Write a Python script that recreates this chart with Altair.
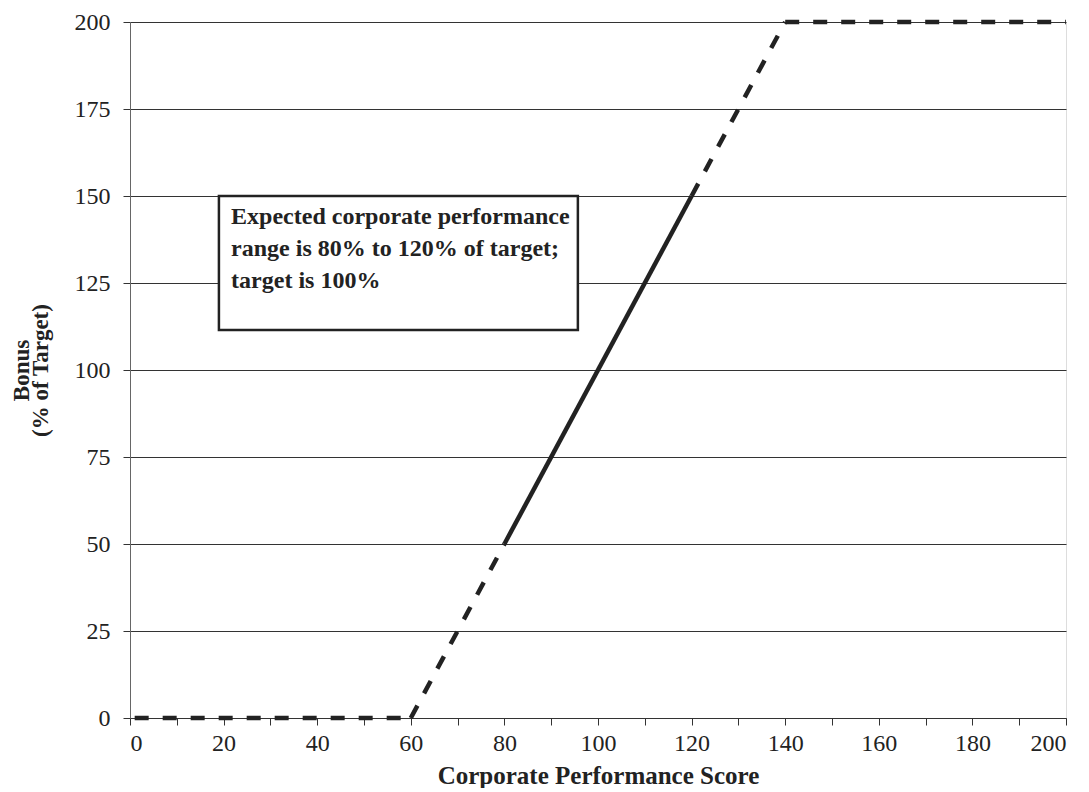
import altair as alt
import pandas as pd

# Data
dashed_x = [1, 60, 60, 80, 120, 140, 140, 200]
dashed_y = [0, 0, 0, 50, 150, 200, 200, 200]
dashed_seg = ["a", "a", "b", "b", "c", "c", "d", "d"]

solid_x = [80, 120]
solid_y = [50, 150]

note_lines = ["Expected corporate performance",
              "range is 80% to 120% of target;",
              "target is 100%"]
box_x = [19.0]
box_x2 = [95.7]
box_y = [150.0]
box_y2 = [111.5]

FONT = "Liberation Serif"
FS = 24

dashed_df = pd.DataFrame({"x": dashed_x, "y": dashed_y, "seg": dashed_seg})
solid_df = pd.DataFrame({"x": solid_x, "y": solid_y})
box_df = pd.DataFrame({"x": box_x, "x2": box_x2, "y": box_y, "y2": box_y2})

xscale = alt.Scale(domain=[0, 200], nice=False, zero=False)
yscale = alt.Scale(domain=[0, 200], nice=False)

xaxis = alt.Axis(
    values=list(range(0, 201, 10)),
    labelExpr="datum.value % 20 == 0 ? datum.label : ''",
    grid=False, tickSize=7, tickColor="#333", domainColor="#333",
    labelFont=FONT, labelFontSize=FS, labelColor="#222", labelPadding=6,
    title="Corporate Performance Score", titleFont=FONT, titleFontSize=25,
    titleFontWeight="bold", titleColor="#222", titlePadding=8,
)
yaxis = alt.Axis(
    values=list(range(0, 201, 25)),
    grid=True, gridColor="#333", gridWidth=1, tickSize=7, tickColor="#333",
    domainColor="#666",
    labelFont=FONT, labelFontSize=FS, labelColor="#222", labelPadding=13,
    title=["Bonus", "(% of Target)"], titleFont=FONT, titleFontSize=23,
    titleFontWeight="bold", titleColor="#222", titlePadding=22,
    titleLineHeight=19,
)

base_dashed = alt.Chart(dashed_df).mark_line(
    color="#222", strokeWidth=4.5, strokeDash=[14, 14], strokeCap="butt"
).encode(
    x=alt.X("x:Q", scale=xscale, axis=xaxis),
    y=alt.Y("y:Q", scale=yscale, axis=yaxis),
    detail="seg:N",
)

solid = alt.Chart(solid_df).mark_line(color="#222", strokeWidth=4.5).encode(
    x=alt.X("x:Q", scale=xscale),
    y=alt.Y("y:Q", scale=yscale),
)

box = alt.Chart(box_df).mark_rect(
    fill="white", stroke="#222", strokeWidth=2.5
).encode(
    x=alt.X("x:Q", scale=xscale),
    x2="x2:Q",
    y=alt.Y("y:Q", scale=yscale),
    y2="y2:Q",
)

note_df = pd.DataFrame({"x": [box_x[0] + 2.6], "y": [box_y[0] - 6.0],
                        "t": [note_lines]})
note = alt.Chart(note_df).mark_text(
    align="left", baseline="middle", font=FONT, fontSize=FS,
    fontWeight="bold", color="#222", lineHeight=32,
).encode(
    x=alt.X("x:Q", scale=xscale),
    y=alt.Y("y:Q", scale=yscale),
    text="t",
)

chart = alt.layer(base_dashed, solid, box, note).properties(
    width=936, height=696,
    autosize=alt.AutoSizeParams(type="none"),
    padding={"left": 122, "top": 14, "right": 15, "bottom": 70},
).configure_view(stroke=None).configure(background="white")

chart.save("out.html", embed_options={"renderer": "svg", "actions": False})
